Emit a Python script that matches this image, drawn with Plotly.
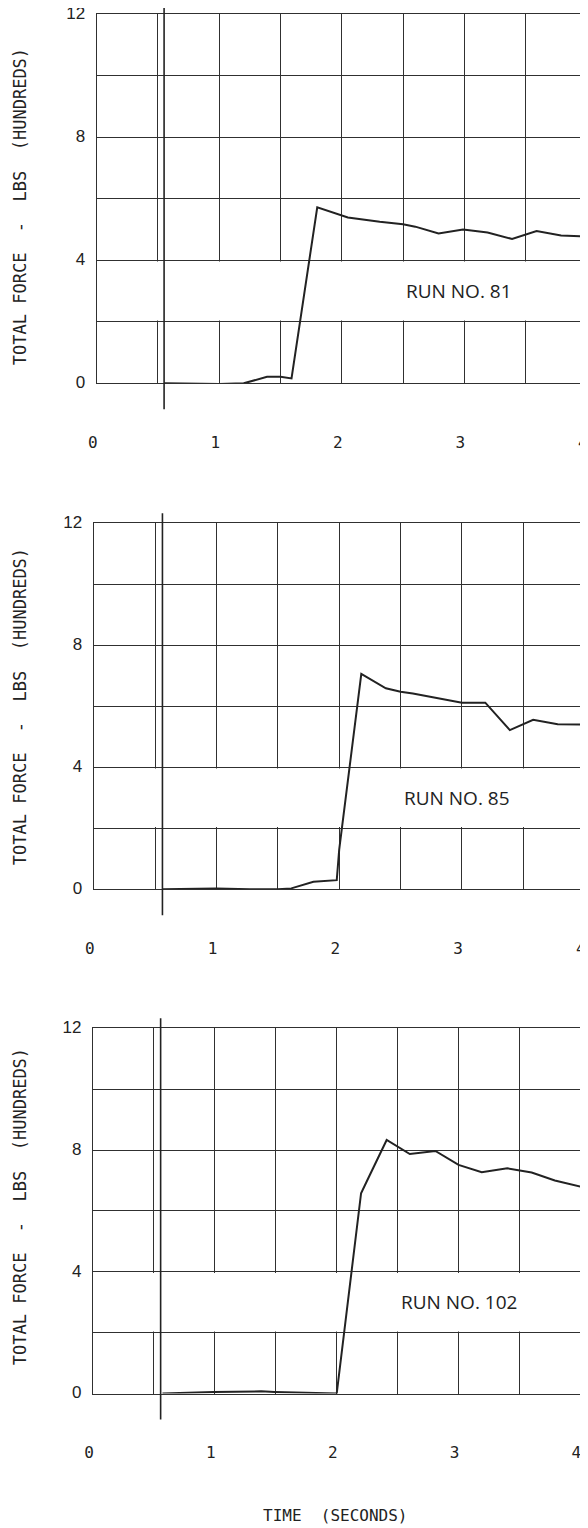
import plotly.graph_objects as go

# ---- data (time in seconds, force in hundreds of lbs)
run81_t = [0.55, 1.0, 1.2, 1.39, 1.5, 1.59, 1.80, 2.0, 2.05, 2.31, 2.5, 2.6, 2.79, 2.99, 3.19, 3.39, 3.5, 3.59, 3.79, 4.0]
run81_f = [0, -0.02, 0, 0.21, 0.21, 0.16, 5.72, 5.47, 5.39, 5.25, 5.17, 5.09, 4.87, 5.0, 4.9, 4.69, 4.84, 4.95, 4.8, 4.77]

run85_t = [0.56, 1.0, 1.27, 1.5, 1.61, 1.79, 1.98, 2.0, 2.18, 2.38, 2.5, 2.6, 3.0, 3.19, 3.39, 3.49, 3.58, 3.78, 4.0]
run85_f = [0, 0.03, 0, 0, 0.03, 0.25, 0.3, 1.3, 7.06, 6.59, 6.48, 6.42, 6.12, 6.12, 5.22, 5.4, 5.56, 5.41, 5.4]

run102_t = [0.57, 0.99, 1.38, 1.49, 2.0, 2.2, 2.25, 2.41, 2.6, 2.7, 2.81, 3.0, 3.19, 3.4, 3.5, 3.6, 3.79, 4.0]
run102_f = [0, 0.05, 0.07, 0.05, 0, 6.58, 7.0, 8.33, 7.87, 7.92, 7.97, 7.51, 7.27, 7.40, 7.34, 7.26, 7.0, 6.8]

run_labels = ["RUN NO. 81", "RUN NO. 85", "RUN NO. 102"]
zero_marks = [0.55, 0.56, 0.555]   # the long vertical reference line in each panel
x_ticks = [0, 1, 2, 3, 4]
y_ticks = [0, 4, 8, 12]

# ---- page geometry, in screen pixels of the 588x1528 window
# the html body has an 8px margin, so the figure is drawn 8px in from the corner
OFF = 8
W, H = 588 - OFF, 1528 - OFF


def fx(px):
    return (px - OFF) / W


def fy(py):
    return 1 - (py - OFF) / H


# left, right, top, bottom of each panel
panels = [
    (96.7, 587.3, 14.0, 383.3),
    (93.7, 585.2, 523.3, 889.3),
    (93.0, 580.9, 1028.3, 1393.5),
]
ytitle_y = [206.7, 706.7, 1206.7]

INK = "#222222"
GRID = "#303030"
MONO = "DejaVu Sans Mono"

series = [(run81_t, run81_f), (run85_t, run85_f), (run102_t, run102_f)]

fig = go.Figure()
layout = dict(
    width=W, height=H,
    margin=dict(l=0, r=0, t=0, b=0, pad=0),
    paper_bgcolor="white", plot_bgcolor="white",
    showlegend=False,
    shapes=[], annotations=[],
)

for i, ((t, f), (l, r, top, bot)) in enumerate(zip(series, panels)):
    n = "" if i == 0 else str(i + 1)
    xa, ya = "x" + n, "y" + n
    fig.add_trace(go.Scatter(x=t, y=f, mode="lines", xaxis=xa, yaxis=ya,
                             line=dict(color=INK, width=2), hoverinfo="skip"))

    layout["xaxis" + n] = dict(
        domain=[fx(l), min(fx(r), 1)], anchor=ya, range=[0, 4.004], automargin=False,
        tickvals=x_ticks, ticks="", showgrid=True, gridcolor=GRID, gridwidth=1.2,
        minor=dict(dtick=0.5, showgrid=True, gridcolor=GRID, gridwidth=1.2),
        showline=True, linecolor=GRID, linewidth=1.3, mirror=True,
        zeroline=False, ticklabelstandoff=44, ticklabelshift=-4,
        ticklabeloverflow="allow",
        tickfont=dict(family=MONO, size=16, color=INK),
    )
    layout["yaxis" + n] = dict(
        domain=[fy(bot), fy(top)], anchor=xa, range=[0, 12], automargin=False,
        tickvals=y_ticks, ticks="", showgrid=True, gridcolor=GRID, gridwidth=1.2,
        minor=dict(dtick=2, showgrid=True, gridcolor=GRID, gridwidth=1.2),
        showline=True, linecolor=GRID, linewidth=1.3,
        zeroline=False, ticklabelstandoff=7, ticklabelshift=-1,
        ticklabeloverflow="allow",
        tickfont=dict(family="Liberation Sans", size=17, color=INK),
    )

    # white label strip between 2 and 4 that interrupts the vertical grid
    layout["shapes"].append(dict(type="rect", xref=xa, yref=ya, layer="between",
                                 x0=0.01, x1=4.1, y0=2.04, y1=3.96,
                                 fillcolor="white", line=dict(width=0)))
    # long reference line crossing the frame
    ph = bot - top
    layout["shapes"].append(dict(type="line", xref=xa, yref=ya + " domain",
                                 x0=zero_marks[i], x1=zero_marks[i],
                                 y0=-26 / ph, y1=1 + 10 / ph,
                                 line=dict(color=INK, width=1.6)))

    layout["annotations"].append(dict(
        xref=xa, yref=ya, x=2.5, y=3, xanchor="left", yanchor="middle",
        text=run_labels[i], showarrow=False, xshift=1,
        font=dict(family="Open Sans", size=19, color=INK)))

    layout["annotations"].append(dict(
        xref="paper", yref="paper", x=fx(19.5), y=fy(ytitle_y[i]),
        text="TOTAL FORCE  -  LBS  (HUNDREDS)", textangle=-90, showarrow=False,
        xanchor="center", yanchor="middle",
        font=dict(family=MONO, size=17, color=INK)))

layout["annotations"].append(dict(
    xref="paper", yref="paper", x=fx(335), y=fy(1515.5),
    text="TIME  (SECONDS)", showarrow=False, xanchor="center", yanchor="middle",
    font=dict(family=MONO, size=16, color=INK)))

fig.update_layout(**layout)
fig.write_html("out.html")
